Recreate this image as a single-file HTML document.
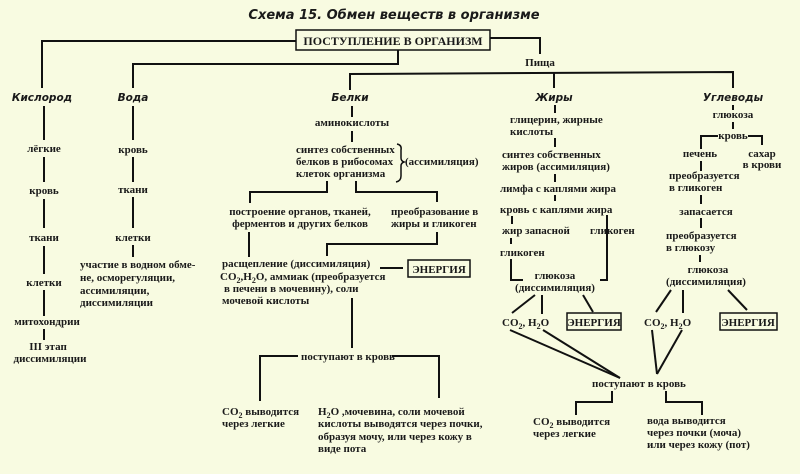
<!DOCTYPE html>
<html><head><meta charset="utf-8"><style>
html,body{margin:0;padding:0;background:#f8fbe1;}
svg{display:block}
text{font-family:"Liberation Serif","DejaVu Serif",serif;font-size:11px;font-weight:bold;fill:#1a1a1a}
.t{font-family:"DejaVu Sans","Liberation Sans",sans-serif;font-style:italic;font-size:13px}
.h{font-family:"DejaVu Sans","Liberation Sans",sans-serif;font-style:italic;font-size:10.5px}
line,polyline,path{stroke:#111;stroke-width:2;fill:none}
rect{stroke:#111;stroke-width:1.5;fill:#f8fbe1}
</style></head><body>
<svg width="800" height="474" viewBox="0 0 800 474" xmlns="http://www.w3.org/2000/svg">
<text class="t" x="394" y="19" text-anchor="middle">Схема 15. Обмен веществ в организме</text>
<polyline points="296,41 42,41 42,88"/>
<polyline points="490,38 540,38 540,54"/>
<polyline points="398,50 398,64 133,64 133,88"/>
<rect x="296" y="30" width="194" height="20"/>
<text x="393" y="45" text-anchor="middle" style="font-size:12px">ПОСТУПЛЕНИЕ  В  ОРГАНИЗМ</text>
<text x="540" y="66" text-anchor="middle">Пища</text>
<polyline points="350,90 350,74 733,72 733,88"/>
<line x1="554" y1="73" x2="554" y2="88"/>

<text class="h" x="42" y="101" text-anchor="middle">Кислород</text>
<text class="h" x="133" y="101" text-anchor="middle">Вода</text>
<text class="h" x="350" y="101" text-anchor="middle">Белки</text>
<text class="h" x="554" y="101" text-anchor="middle">Жиры</text>
<text class="h" x="733" y="101" text-anchor="middle">Углеводы</text>

<!-- Кислород -->
<line x1="44" y1="106" x2="44" y2="140"/>
<text x="44" y="152" text-anchor="middle">лёгкие</text>
<line x1="44" y1="157" x2="44" y2="182"/>
<text x="44" y="194" text-anchor="middle">кровь</text>
<line x1="44" y1="199" x2="44" y2="228"/>
<text x="44" y="241" text-anchor="middle">ткани</text>
<line x1="44" y1="246" x2="44" y2="274"/>
<text x="44" y="286" text-anchor="middle">клетки</text>
<line x1="44" y1="290" x2="44" y2="316"/>
<text x="47" y="325" text-anchor="middle">митохондрии</text>
<line x1="44" y1="329" x2="44" y2="340"/>
<text x="48" y="350" text-anchor="middle">III этап</text>
<text x="50" y="362" text-anchor="middle">диссимиляции</text>

<!-- Вода -->
<line x1="133" y1="106" x2="133" y2="140"/>
<text x="133" y="153" text-anchor="middle">кровь</text>
<line x1="133" y1="157" x2="133" y2="182"/>
<text x="133" y="193" text-anchor="middle">ткани</text>
<line x1="133" y1="197" x2="133" y2="228"/>
<text x="133" y="241" text-anchor="middle">клетки</text>
<line x1="133" y1="245" x2="133" y2="257"/>
<text x="80" y="268">участие в водном  обме-</text>
<text x="80" y="281">не, осморегуляции,</text>
<text x="80" y="294">ассимиляции,</text>
<text x="80" y="306">диссимиляции</text>

<!-- Белки -->
<line x1="352" y1="106" x2="352" y2="117"/>
<text x="352" y="126" text-anchor="middle">аминокислоты</text>
<line x1="352" y1="131" x2="352" y2="142"/>
<text x="296" y="153">синтез собственных</text>
<text x="296" y="165">белков в рибосомах</text>
<text x="296" y="177">клеток организма</text>
<path d="M397,144 Q402,145 401,150 L401,158 Q401,161 404,162 Q401,163 401,166 L401,176 Q401,181 396,182" style="stroke-width:1.5"/>
<text x="405" y="165">(ассимиляция)</text>
<polyline points="327,181 327,192 250,192 250,203"/>
<polyline points="356,181 356,192 437,192 437,202"/>
<text x="300" y="215" text-anchor="middle">построение органов, тканей,</text>
<text x="300" y="227" text-anchor="middle">ферментов и других белков</text>
<text x="391" y="215">преобразование в</text>
<text x="391" y="227">жиры и гликоген</text>
<line x1="249" y1="232" x2="249" y2="257"/>
<polyline points="437,232 437,244 327,244 327,256"/>
<text x="222" y="267">расщепление (диссимиляция)</text>
<text x="220" y="280">CO<tspan dy="3" style="font-size:8px">2</tspan><tspan dy="-3">,H</tspan><tspan dy="3" style="font-size:8px">2</tspan><tspan dy="-3">O, аммиак (преобразуется</tspan></text>
<text x="224" y="292">в печени в мочевину), соли</text>
<text x="222" y="304">мочевой кислоты</text>
<line x1="380" y1="268" x2="403" y2="268"/>
<rect x="408" y="260" width="62" height="17"/>
<text x="439" y="273" text-anchor="middle">ЭНЕРГИЯ</text>
<line x1="352" y1="298" x2="352" y2="348"/>
<polyline points="298,356 260,356 260,401"/>
<text x="301" y="360">поступают в кровь</text>
<polyline points="392,356 439,356 439,398"/>
<text x="222" y="415">CO<tspan dy="3" style="font-size:8px">2</tspan><tspan dy="-3"> выводится</tspan></text>
<text x="222" y="427">через легкие</text>
<text x="318" y="415">H<tspan dy="3" style="font-size:8px">2</tspan><tspan dy="-3">O ,мочевина, соли   мочевой</tspan></text>
<text x="318" y="427">кислоты выводятся через почки,</text>
<text x="318" y="440">образуя мочу, или  через кожу в</text>
<text x="318" y="452">виде пота</text>

<!-- Жиры -->
<line x1="555" y1="105" x2="555" y2="113"/>
<text x="510" y="123">глицерин, жирные</text>
<text x="510" y="135">кислоты</text>
<line x1="555" y1="138" x2="555" y2="147"/>
<text x="502" y="158">синтез собственных</text>
<text x="502" y="170">жиров (ассимиляция)</text>
<line x1="555" y1="174" x2="555" y2="182"/>
<text x="500" y="192">лимфа с каплями жира</text>
<line x1="555" y1="195" x2="555" y2="201"/>
<text x="500" y="213">кровь с каплями жира</text>
<line x1="512" y1="216" x2="512" y2="224"/>
<text x="502" y="234">жир запасной</text>
<text x="590" y="234">гликоген</text>
<line x1="511" y1="238" x2="511" y2="244"/>
<text x="500" y="256">гликоген</text>
<polyline points="511,259 511,280 523,280"/>
<polyline points="607,215 607,280 600,280"/>
<text x="555" y="279" text-anchor="middle">глюкоза</text>
<text x="555" y="291" text-anchor="middle">(диссимиляция)</text>
<line x1="535" y1="295" x2="512" y2="313"/>
<line x1="542" y1="295" x2="542" y2="314"/>
<line x1="583" y1="295" x2="593" y2="312"/>
<text x="502" y="326">CO<tspan dy="3" style="font-size:8px">2</tspan><tspan dy="-3">, H</tspan><tspan dy="3" style="font-size:8px">2</tspan><tspan dy="-3">O</tspan></text>
<rect x="567" y="313" width="54" height="17"/>
<text x="594" y="326" text-anchor="middle">ЭНЕРГИЯ</text>
<line x1="510" y1="330" x2="620" y2="378"/>
<line x1="543" y1="330" x2="620" y2="378"/>

<!-- Углеводы -->
<line x1="733" y1="105" x2="733" y2="110"/>
<text x="733" y="118" text-anchor="middle">глюкоза</text>
<line x1="733" y1="122" x2="733" y2="129"/>
<polyline points="701,149 701,136 718,136"/>
<polyline points="748,136 762,136 762,145"/>
<text x="733" y="139" text-anchor="middle">кровь</text>
<text x="700" y="157" text-anchor="middle">печень</text>
<text x="762" y="157" text-anchor="middle">сахар</text>
<text x="762" y="168" text-anchor="middle">в крови</text>
<line x1="701" y1="161" x2="701" y2="171"/>
<text x="669" y="179">преобразуется</text>
<text x="669" y="191">в гликоген</text>
<line x1="701" y1="195" x2="701" y2="204"/>
<text x="706" y="215" text-anchor="middle">запасается</text>
<line x1="701" y1="218" x2="701" y2="228"/>
<text x="666" y="239">преобразуется</text>
<text x="666" y="251">в глюкозу</text>
<line x1="700" y1="255" x2="700" y2="262"/>
<text x="708" y="273" text-anchor="middle">глюкоза</text>
<text x="706" y="285" text-anchor="middle">(диссимиляция)</text>
<line x1="671" y1="290" x2="656" y2="312"/>
<line x1="683" y1="290" x2="683" y2="313"/>
<line x1="728" y1="290" x2="747" y2="310"/>
<text x="644" y="326">CO<tspan dy="3" style="font-size:8px">2</tspan><tspan dy="-3">, H</tspan><tspan dy="3" style="font-size:8px">2</tspan><tspan dy="-3">O</tspan></text>
<rect x="720" y="313" width="57" height="17"/>
<text x="748" y="326" text-anchor="middle">ЭНЕРГИЯ</text>
<line x1="652" y1="330" x2="657" y2="374"/>
<line x1="682" y1="330" x2="657" y2="374"/>

<text x="592" y="387">поступают в кровь</text>
<polyline points="612,391 612,402 576,402 576,415"/>
<polyline points="666,391 666,402 702,402 702,415"/>
<text x="533" y="425">CO<tspan dy="3" style="font-size:8px">2</tspan><tspan dy="-3">  выводится</tspan></text>
<text x="533" y="437">через легкие</text>
<text x="647" y="424">вода выводится</text>
<text x="647" y="436">через почки  (моча)</text>
<text x="647" y="448">или через кожу  (пот)</text>
</svg>
</body></html>
